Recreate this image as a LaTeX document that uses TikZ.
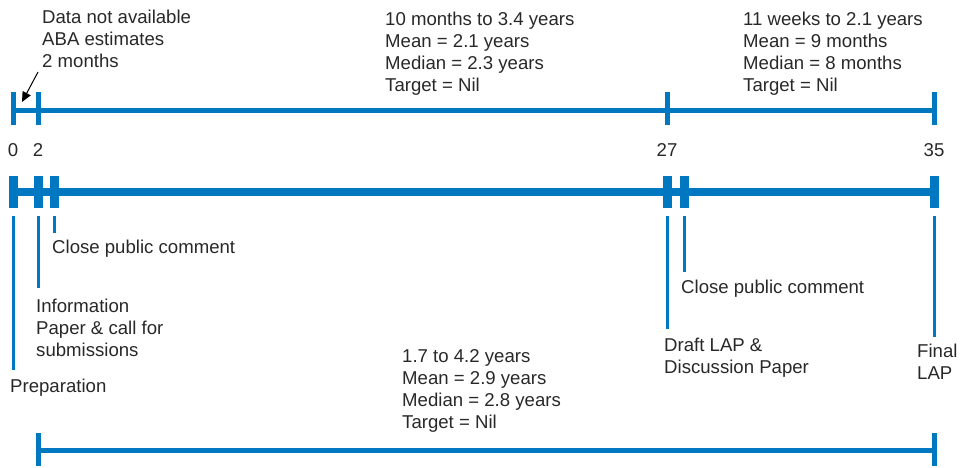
\documentclass[tikz,border=0pt]{standalone}
\usepackage{fontspec}
\setmainfont{Liberation Sans}
\usetikzlibrary{arrows.meta}
\definecolor{tlblue}{RGB}{0,120,193}
\definecolor{txt}{RGB}{40,40,40}

\begin{document}
\begin{tikzpicture}[x=1pt,y=-1pt,
  % multi-line labels are placed by the baseline of their last line
  lbl/.style={anchor=base west, inner sep=0pt, align=left, text=txt,
              font=\fontsize{18.6}{21.9}\selectfont},
  num/.style={anchor=base, inner sep=0pt, text=txt,
              font=\fontsize{18.6}{21.9}\selectfont},
  span/.style={draw=tlblue, line width=5pt},
  tickmark/.style={draw=tlblue, line width=5pt},
  mainbar/.style={draw=tlblue, line width=8pt},
  block/.style={fill=tlblue, minimum width=9pt, minimum height=32pt, inner sep=0pt},
  lead/.style={draw=tlblue, line width=3pt}]

\useasboundingbox (0,0) rectangle (960,467);

% ---------- upper scale: months 0, 2, 27, 35 ----------
\coordinate (u0) at (13,110);
\coordinate (u2) at (38,110);
\coordinate (u27) at (667,110);
\coordinate (u35) at (934,110);
\draw[span] (u0) -- (u35);
\foreach \p in {u0,u2,u27,u35}
  \draw[tickmark] ([yshift=-15pt]\p) -- ([yshift=18pt]\p);

\node[num] (n0) at (13,156) {0};
\node[num] (n2) at (38,156) {2};
\node[num] (n27) at (667,156) {27};
\node[num] (n35) at (934,156) {35};

\node[lbl] (aba) at (42,67) {Data not available\\ABA estimates\\2 months};
\coordinate (abaarrow) at (38,72);
\coordinate (abatip) at (22,102);
\draw[-{Triangle[length=10pt,width=9pt]}, line width=1pt, black] (abaarrow) -- (abatip);

\node[lbl] (stageA) at (385,91) {10 months to 3.4 years\\Mean = 2.1 years\\Median = 2.3 years\\Target = Nil};
\node[lbl] (stageB) at (743,91) {11 weeks to 2.1 years\\Mean = 9 months\\Median = 8 months\\Target = Nil};

% ---------- process bar with milestones ----------
\draw[mainbar] (13,192) -- (934,192);
\node[block] (prep) at (13.5,192) {};
\node[block] (info) at (38.5,192) {};
\node[block] (close1) at (54.5,192) {};
\node[block] (draft) at (667.5,192) {};
\node[block] (close2) at (684.5,192) {};
\node[block] (final) at (934.5,192) {};

\node[lbl] (tclose1) at (52,253) {Close public comment};
\node[lbl] (tinfo) at (36,356) {Information\\Paper \& call for\\submissions};
\node[lbl] (tprep) at (10,392) {Preparation};
\node[lbl] (tclose2) at (681,293) {Close public comment};
\node[lbl] (tdraft) at (664,373) {Draft LAP \&\\Discussion Paper};
\node[lbl] (tfinal) at (917,379) {Final\\LAP};

\coordinate (eprep) at (13.3,370);
\coordinate (einfo) at (38.3,288);
\coordinate (eclose1) at (54.3,233);
\coordinate (edraft) at (667,329);
\coordinate (eclose2) at (684,272);
\coordinate (efinal) at (934,337);
\draw[lead] (prep.south -| eprep) ++(0,8) -- (eprep);
\draw[lead] (info.south -| einfo) ++(0,8) -- (einfo);
\draw[lead] (close1.south -| eclose1) ++(0,8) -- (eclose1);
\draw[lead] (draft.south -| edraft) ++(0,8) -- (edraft);
\draw[lead] (close2.south -| eclose2) ++(0,8) -- (eclose2);
\draw[lead] (final.south -| efinal) ++(0,8) -- (efinal);

% ---------- overall span ----------
\node[lbl] (total) at (402,428) {1.7 to 4.2 years\\Mean = 2.9 years\\Median = 2.8 years\\Target = Nil};
\coordinate (l0) at (38,450);
\coordinate (l1) at (934.5,450);
\draw[span] (l0) -- (l1);
\foreach \p in {l0,l1}
  \draw[tickmark] ([yshift=-16pt]\p) -- ([yshift=17pt]\p);

\end{tikzpicture}
\end{document}
